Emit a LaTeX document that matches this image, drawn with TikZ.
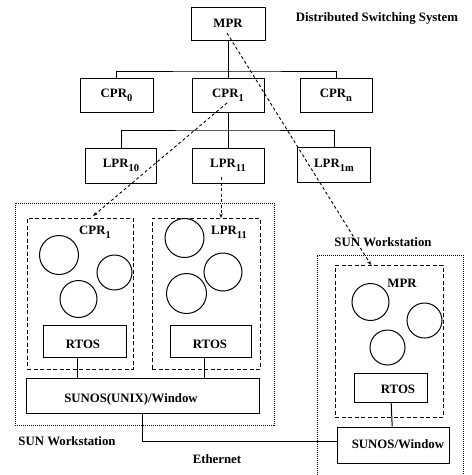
\documentclass[tikz,border=0pt]{standalone}
\usepackage{fontspec}
\setmainfont{Liberation Serif}
\usetikzlibrary{arrows.meta}
\newcommand{\labfont}{\fontsize{12.8}{14}\selectfont\bfseries}
\newcommand{\subx}[1]{\raisebox{-0.32em}{\fontsize{10.5}{12}\selectfont #1}}
\tikzset{
  pbox/.style={draw, line width=1pt, inner sep=0pt, font=\labfont},
  txt/.style={inner sep=0pt, font=\labfont},
  inbox/.style={draw, line width=1pt, dash pattern=on 4pt off 2.5pt, inner sep=0pt},
  outbox/.style={draw, line width=0.8pt, dash pattern=on 1pt off 1pt},
  proc/.style={draw, circle, line width=1pt, inner sep=0pt},
  link/.style={line width=1pt},
  rel/.style={line width=0.9pt, dash pattern=on 3pt off 2.5pt, -{Stealth[length=4.5pt,width=3.5pt]}},
}
\begin{document}
\begin{tikzpicture}[x=1pt,y=-1pt]
\useasboundingbox (0,0) rectangle (472,475);
% title
\node[txt] (title) at (377,18) {Distributed Switching System};
% tree
\node[pbox, minimum width=74, minimum height=33] (mpr) at (228,23.5) {MPR};
\node[pbox, minimum width=73, minimum height=34] (cpr0) at (116.5,95) {CPR\subx{0}};
\node[pbox, minimum width=72, minimum height=34] (cpr1) at (228,95) {CPR\subx{1}};
\node[pbox, minimum width=72, minimum height=34] (cprn) at (336,95) {CPR\subx{n}};
\node[pbox, minimum width=71, minimum height=35] (lpr10) at (121,165.5) {LPR\subx{10}};
\node[pbox, minimum width=72, minimum height=35] (lpr11) at (228,165.5) {LPR\subx{11}};
\node[pbox, minimum width=73, minimum height=35] (lpr1m) at (334,165) {LPR\subx{1m}};
\coordinate (busA) at (228,71);
\coordinate (busB) at (228,130);
\draw[link] (mpr) -- (cpr1);
\draw[link] (cpr0.north) |- (busA) -| (cprn.north);
\draw[link] (cpr1) -- (lpr11);
\draw[link] (lpr10.north) |- (busB) -| (lpr1m.north);
% left workstation
\node[outbox, minimum width=259, minimum height=222, inner sep=0pt] (wsA) at (144.5,314) {};
\node[inbox, minimum width=106, minimum height=151] (cprbox) at (80,293.5) {};
\node[inbox, minimum width=108, minimum height=151] (lprbox) at (206,293.5) {};
\node[txt] (cprlab) at (95,232) {CPR\subx{1}};
\node[txt] (lprlab) at (229,232) {LPR\subx{11}};
\node[proc, minimum size=39] (pa1) at (59,255) {};
\node[proc, minimum size=35] (pa2) at (114.5,272.5) {};
\node[proc, minimum size=37] (pa3) at (78.5,299) {};
\node[proc, minimum size=39] (pb1) at (184.5,238) {};
\node[proc, minimum size=38] (pb2) at (223,272) {};
\node[proc, minimum size=40] (pb3) at (186.5,293.5) {};
\node[pbox, minimum width=83, minimum height=32] (rtosA) at (84.5,341) {};
\node[txt] (rtosAt) at (83,344) {RTOS};
\node[pbox, minimum width=81, minimum height=32] (rtosB) at (210.5,341) {};
\node[txt] (rtosBt) at (210,344) {RTOS};
\node[pbox, minimum width=233, minimum height=35] (sunosA) at (142.5,395.5) {};
\node[txt] (sunosAt) at (131,399) {SUNOS(UNIX)/Window};
\draw[link] ([xshift=-7.5pt]rtosA.south) -- ([xshift=-7.5pt]rtosA.south |- sunosA.north);
\draw[link] ([xshift=-6.5pt]rtosB.south) -- ([xshift=-6.5pt]rtosB.south |- sunosA.north);
\node[txt] (wsAlab) at (67,441) {SUN Workstation};
% right workstation
\coordinate (wsBtl) at (317,255);
\coordinate (wsBtr) at (463,255);
\draw[outbox] (317,475) -- (wsBtl) -- (wsBtr) -- (463,475);
\node[txt] (wsBlab) at (383,242) {SUN Workstation};
\node[inbox, minimum width=108, minimum height=152] (mprbox) at (389,341) {};
\node[txt] (mprlab) at (402,283) {MPR};
\node[proc, minimum size=37] (pc1) at (370.5,302) {};
\node[proc, minimum size=35] (pc2) at (424.5,320.5) {};
\node[proc, minimum size=35] (pc3) at (387.5,347.5) {};
\node[pbox, minimum width=73, minimum height=29] (rtosC) at (390.5,387.5) {};
\node[txt] (rtosCt) at (398,389) {RTOS};
\node[pbox, minimum width=112, minimum height=36] (sunosB) at (393,445) {};
\node[txt] (sunosBt) at (398,444) {SUNOS/Window};
\draw[link] (rtosC) -- (sunosB);
% ethernet
\draw[link] (sunosA.south) |- ([yshift=4pt]sunosB.west);
\node[txt] (eth) at (217,459) {Ethernet};
% dashed relations
\coordinate (r1s) at (227,103);
\coordinate (r1e) at (93,216);
\draw[rel] (r1s) -- (r1e);
\coordinate (r2s) at (227,33);
\coordinate (r2e) at (371,265);
\draw[rel] (r2s) -- (r2e);
\coordinate (r3s) at (221,177);
\coordinate (r3e) at (221,218);
\draw[rel] (r3s) -- (r3e);
\end{tikzpicture}
\end{document}
